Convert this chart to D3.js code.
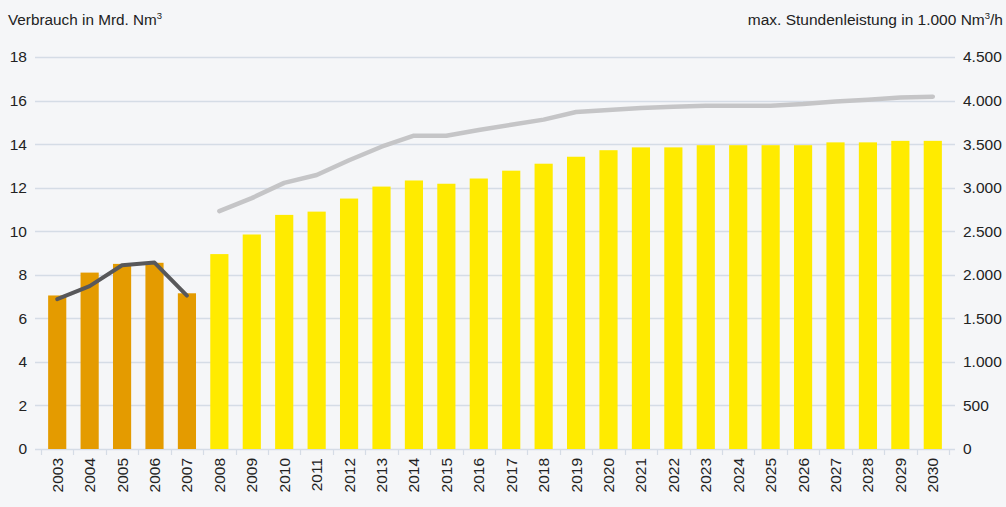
<!DOCTYPE html>
<html><head><meta charset="utf-8">
<script src="https://cdn.jsdelivr.net/npm/d3@7"></script>
<style>
html,body{margin:0;padding:0;background:#f5f6f8;}
svg{display:block;}
text{font-family:"Liberation Sans","DejaVu Sans",sans-serif;fill:#222;}
</style></head><body>
<script>
const years = ["2003","2004","2005","2006","2007","2008","2009","2010","2011","2012","2013","2014","2015","2016","2017","2018","2019","2020","2021","2022","2023","2024","2025","2026","2027","2028","2029","2030"];
const consumption = [7.05,8.1,8.5,8.55,7.15,8.95,9.85,10.75,10.9,11.5,12.05,12.33,12.18,12.42,12.78,13.1,13.42,13.72,13.85,13.85,13.95,13.95,13.95,13.95,14.08,14.08,14.15,14.15];
const historicYears = ["2003","2004","2005","2006","2007"];
const peakHistoric = [1720,1870,2110,2140,1760];
const forecastYears = ["2008","2009","2010","2011","2012","2013","2014","2015","2016","2017","2018","2019","2020","2021","2022","2023","2024","2025","2026","2027","2028","2029","2030"];
const peakForecast = [2730,2880,3055,3145,3315,3470,3597,3597,3662,3722,3781,3868,3892,3915,3930,3940,3940,3940,3960,3990,4010,4035,4045];
const leftTicks = [0,2,4,6,8,10,12,14,16,18];
const rightTicks = [0,500,1000,1500,2000,2500,3000,3500,4000,4500];
const rightTickLabels = ["0","500","1.000","1.500","2.000","2.500","3.000","3.500","4.000","4.500"];
const leftTitle = "Verbrauch in Mrd. Nm";
const rightTitle = "max. Stundenleistung in 1.000 Nm";

const W = 1006, H = 507;
const svg = d3.select("body").append("svg").attr("width", W).attr("height", H);

const x = d3.scaleBand().domain(years).range([41, 949]).paddingInner(0.44).paddingOuter(0.22);
const yL = d3.scaleLinear().domain([0, 18]).range([449, 57]);
const yR = d3.scaleLinear().domain([0, 4500]).range([449, 57]);

// gridlines
svg.append("g").selectAll("line").data(leftTicks).join("line")
  .attr("x1", 35).attr("x2", 955)
  .attr("y1", d => Math.round(yL(d)) + 0.5).attr("y2", d => Math.round(yL(d)) + 0.5)
  .attr("stroke", "#d5dce6").attr("stroke-width", 1.5);

// x axis ticks
const bounds = years.map(y => x(y) - x.step() * x.paddingInner() / 2);
bounds.push(949);
svg.append("g").selectAll("line").data(bounds).join("line")
  .attr("x1", d => Math.round(d) + 0.5).attr("x2", d => Math.round(d) + 0.5)
  .attr("y1", 449).attr("y2", 455)
  .attr("stroke", "#d5dce6").attr("stroke-width", 1.2);

// bars
svg.append("g").selectAll("rect").data(years).join("rect")
  .attr("x", d => x(d)).attr("width", x.bandwidth())
  .attr("y", (d, i) => yL(consumption[i]))
  .attr("height", (d, i) => yL(0) - yL(consumption[i]))
  .attr("fill", (d, i) => i < 5 ? "#e49b00" : "#ffeb00");

// lines
const cx = d => x(d) + x.bandwidth() / 2;
const lineH = d3.line().x((d, i) => cx(historicYears[i])).y(d => yR(d));
const lineF = d3.line().x((d, i) => cx(forecastYears[i])).y(d => yR(d));
svg.append("path").datum(peakForecast).attr("d", lineF)
  .attr("fill", "none").attr("stroke", "#c5c5c7").attr("stroke-width", 4.5)
  .attr("stroke-linecap", "round").attr("stroke-linejoin", "round");
svg.append("path").datum(peakHistoric).attr("d", lineH)
  .attr("fill", "none").attr("stroke", "#58585a").attr("stroke-width", 4)
  .attr("stroke-linecap", "round").attr("stroke-linejoin", "round");

// left axis labels
svg.append("g").selectAll("text").data(leftTicks).join("text")
  .attr("x", 27).attr("y", d => yL(d)).attr("dy", "0.35em")
  .attr("text-anchor", "end").attr("font-size", 15.5).text(d => d);

// right axis labels
svg.append("g").selectAll("text").data(rightTicks).join("text")
  .attr("x", 963).attr("y", d => yR(d)).attr("dy", "0.35em")
  .attr("text-anchor", "start").attr("font-size", 15.5).text((d, i) => rightTickLabels[i]);

// x labels
svg.append("g").selectAll("text").data(years).join("text")
  .attr("transform", d => `translate(${cx(d)},458) rotate(-90)`)
  .attr("dy", "0.35em").attr("text-anchor", "end").attr("font-size", 15.5).text(d => d);

// titles
const t1 = svg.append("text").attr("x", 8).attr("y", 25).attr("font-size", 15.3).text(leftTitle);
t1.append("tspan").attr("font-size", 9.5).attr("dy", -6).text("3");
const t2 = svg.append("text").attr("x", 1003).attr("y", 25).attr("font-size", 15.5).attr("text-anchor", "end");
t2.append("tspan").text(rightTitle);
t2.append("tspan").attr("font-size", 9.5).attr("dy", -6).text("3");
t2.append("tspan").attr("dy", 6).text("/h");
</script>
</body></html>
